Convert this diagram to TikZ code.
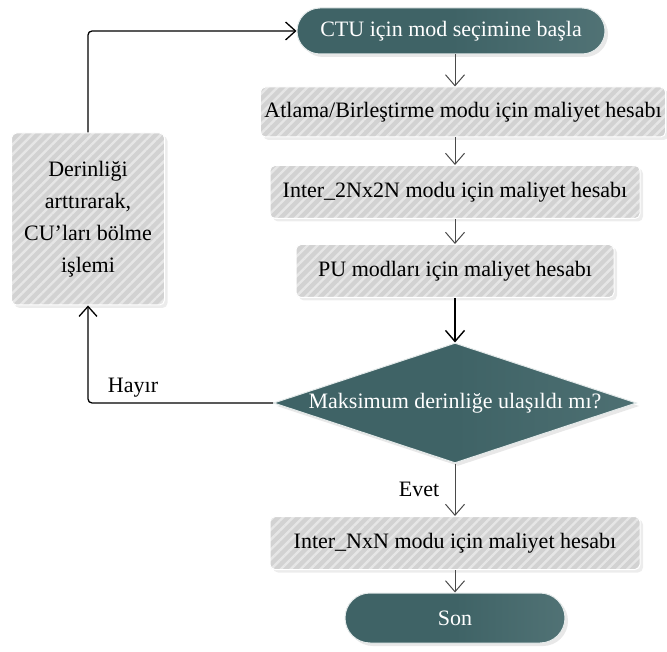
\documentclass[tikz,border=0pt]{standalone}
\usepackage{fontspec}
\setmainfont{Liberation Serif}
\usetikzlibrary{arrows.meta,shapes.geometric,patterns.meta,shadows}
\definecolor{teal1}{HTML}{3F6366}
\definecolor{teal2}{HTML}{7A9698}
\definecolor{boxgray}{HTML}{D2D2D2}
\definecolor{stripe}{HTML}{E6E6E6}
\definecolor{linegray}{HTML}{4A4A4A}
\tikzset{
  every node/.style={font=\fontsize{22}{32}\selectfont},
  procbox/.style={rectangle, rounded corners=5pt, minimum height=50pt, inner xsep=4pt,
    preaction={fill=boxgray, drop shadow={opacity=0.15, shadow xshift=3pt, shadow yshift=-3pt}},
    pattern={Lines[angle=45, distance=7pt, line width=2.4pt]}, pattern color=stripe,
    draw=white, line width=1pt, text=black},
  termnode/.style={rectangle, rounded corners=23pt, minimum height=46pt, text=white,
    left color=teal1, right color=teal1!70!teal2, middle color=teal1,
    draw=white!80!teal2, line width=1pt,
    drop shadow={opacity=0.18, shadow xshift=3pt, shadow yshift=-3pt}},
  decision/.style={diamond, aspect=3.1, inner sep=1pt, text=white,
    left color=teal1, right color=teal1!75!teal2, middle color=teal1,
    draw=white!80!teal2, line width=1pt,
    drop shadow={opacity=0.18, shadow xshift=3pt, shadow yshift=-3pt}},
  flow/.style={draw=linegray, line width=1pt, -{Straight Barb[length=11pt,width=19pt]}},
  loop/.style={draw=black, line width=1.3pt, rounded corners=4pt, -{Straight Barb[length=10pt,width=18pt]}},
  lbl/.style={text=black}
}
\begin{document}
\begin{tikzpicture}[x=1pt,y=-1pt]
\useasboundingbox (0,0) rectangle (667,652);

\node[termnode, minimum width=308pt] (start) at (451,31) {CTU için mod seçimine başla};
\node[procbox, minimum width=402pt] (b1) at (463,112) {Atlama/Birleştirme modu için maliyet hesabı};
\node[procbox, minimum width=370pt, minimum height=53pt] (b2) at (455,192) {Inter\_2Nx2N modu için maliyet hesabı};
\node[procbox, minimum width=318pt, minimum height=53pt] (b3) at (455,271) {PU modları için maliyet hesabı};
\node[decision, minimum width=362pt, minimum height=120pt] (dec) at (455,403) {Maksimum derinliğe ulaşıldı mı?};
\node[procbox, minimum width=370pt, minimum height=53pt] (b4) at (455,543) {Inter\_NxN modu için maliyet hesabı};
\node[termnode, minimum width=220pt, minimum height=50pt, rounded corners=25pt] (son) at (455,618) {Son};
\node[procbox, minimum width=153pt, minimum height=172pt, align=center] (split) at (88,219)
  {Derinliği\\arttırarak,\\CU’ları bölme\\işlemi};

\draw[flow] (start.south -| 455,0) -- (b1.north -| 455,0);
\draw[flow] (b1.south -| 455,0) -- (b2.north);
\draw[flow] (b2.south) -- (b3.north);
\draw[flow, draw=black, line width=1.4pt] (b3.south) -- (dec.north);
\draw[flow] (dec.south) -- node[lbl, pos=0.5, anchor=east, xshift=-12pt] {Evet} (b4.north);
\draw[flow] (b4.south) -- (son.north);

\draw[loop] (dec.west) -- (split.south |- dec.west) -- node[lbl, pos=0, anchor=south west, xshift=16pt, yshift=2pt] {Hayır} (split.south);
\draw[loop] (split.north) |- (start.west);
\end{tikzpicture}
\end{document}
